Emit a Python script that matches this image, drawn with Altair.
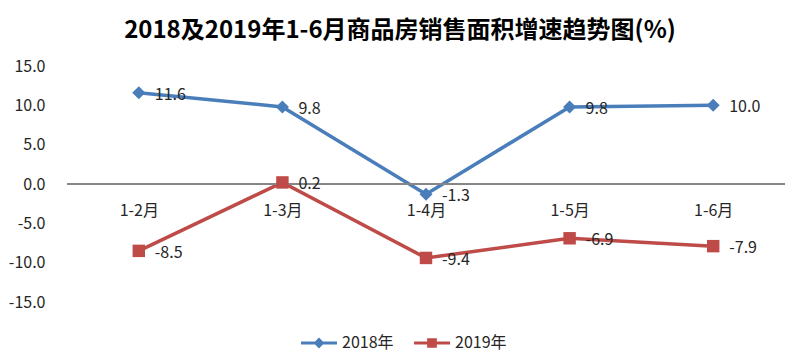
import altair as alt
import pandas as pd

months = ["1-2月", "1-3月", "1-4月", "1-5月", "1-6月"]
series_names = ["2018年", "2019年"]
values_2018 = [11.6, 9.8, -1.3, 9.8, 10.0]
values_2019 = [-8.5, 0.2, -9.4, -6.9, -7.9]
y_ticks = [-15, -10, -5, 0, 5, 10, 15]
colors = ["#4a7ebb", "#be4b48"]

rows = []
for s, vals in zip(series_names, [values_2018, values_2019]):
    for m, v in zip(months, vals):
        rows.append({"month": m, "series": s, "value": v, "label": f"{v:.1f}"})
df = pd.DataFrame(rows)

FONT = "Noto Sans CJK SC"
TXT = "#262626"

x_axis = alt.Axis(title=None, orient="bottom", offset=-118, domain=False, ticks=False,
                  labelPadding=18, labelAngle=0, labelFontSize=16, labelColor=TXT,
                  labelFont=FONT, grid=False)
y_axis = alt.Axis(title=None, values=y_ticks, domain=False, ticks=False, grid=False,
                  labelPadding=22, labelFontSize=16, labelColor=TXT, labelFont=FONT,
                  labelOverlap=False,
                  labelExpr="(datum.value < 0 ? '-' : '') + format(abs(datum.value), '.1f')")
x_scale = alt.Scale(domain=months, padding=0.5)
y_scale = alt.Scale(domain=[-15, 15], nice=False, zero=False)

x_enc = alt.X("month:N", sort=months, scale=x_scale, axis=x_axis)
y_enc = alt.Y("value:Q", scale=y_scale, axis=y_axis)

color_scale = alt.Scale(domain=series_names, range=colors)

base = alt.Chart(df)
s18 = base.transform_filter(alt.datum.series == series_names[0])
s19 = base.transform_filter(alt.datum.series == series_names[1])

line18 = s18.mark_line(strokeWidth=3.5, color=colors[0]).encode(x=x_enc, y=y_enc)
line19 = s19.mark_line(strokeWidth=3.5, color=colors[1]).encode(x=x_enc, y=y_enc)

zero_rule = base.mark_rule(color="#868686", strokeWidth=1).encode(
    y=alt.Y(datum=0, type="quantitative", scale=y_scale, axis=y_axis)
)

pts18 = s18.mark_point(shape="diamond", filled=True, size=170, color=colors[0], opacity=1
                       ).encode(x=x_enc, y=y_enc)
pts19 = s19.mark_point(shape="square", filled=True, size=155, color=colors[1], opacity=1
                       ).encode(x=x_enc, y=y_enc)

labels = base.mark_text(align="left", baseline="middle", dx=16, dy=2, fontSize=16,
                        font=FONT, color=TXT).encode(x=x_enc, y=y_enc, text="label:N")

diamond_path = "M-1,-0.08L1,-0.08L1,0.08L-1,0.08ZM0,-0.3L0.3,0L0,0.3L-0.3,0Z"
square_path = "M-1,-0.08L1,-0.08L1,0.08L-1,0.08ZM-0.27,-0.27L0.27,-0.27L0.27,0.27L-0.27,0.27Z"

leg = alt.Legend(title=None, orient="none", legendX=233, legendY=258, direction="horizontal",
                 symbolSize=1296, labelFontSize=16, labelFont=FONT,
                 labelColor=TXT, labelOffset=4, columnPadding=19)

legend_layer = base.mark_point(filled=True, opacity=1).encode(
    x=x_enc, y=y_enc,
    size=alt.value(0),
    color=alt.Color("series:N", scale=color_scale, legend=leg),
    shape=alt.Shape("series:N", scale=alt.Scale(domain=series_names, range=[diamond_path, square_path]), legend=leg),
)

chart = alt.layer(line18, line19, zero_rule, pts18, pts19, labels, legend_layer).properties(
    width=718, height=236,
    background="white",
    title=alt.TitleParams("2018及2019年1-6月商品房销售面积增速趋势图(%)", font=FONT, fontSize=24,
                          fontWeight="bold", color="#000", anchor="middle", dx=-26, offset=15),
    autosize=alt.AutoSizeParams(type="none"),
    padding={"left": 59, "top": 58, "right": 7, "bottom": 52},
).configure_view(stroke=None)

chart.save("out.html", embed_options={"renderer": "svg", "actions": False})
